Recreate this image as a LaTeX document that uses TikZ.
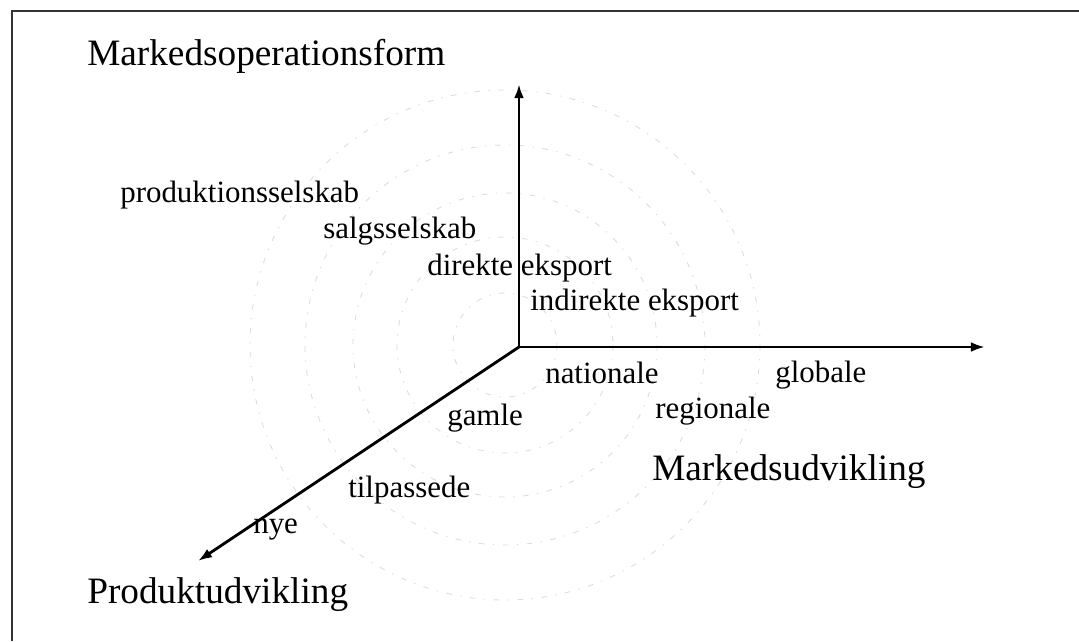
\documentclass[tikz,border=0pt]{standalone}
\usepackage{fontspec}
\setmainfont{Liberation Serif}
\usetikzlibrary{arrows.meta}

\tikzset{
  asse/.style={line width=2pt, -{Latex[length=10pt,width=7pt]}},
  cerchio/.style={gray!28, line width=0.6pt, dash pattern=on 4pt off 6pt on 1pt off 6pt},
  voce/.style={anchor=base west, inner sep=0pt, font=\fontsize{22}{26}\selectfont},
  titolo/.style={anchor=base west, inner sep=0pt, font=\fontsize{26.5}{31}\selectfont}
}

\begin{document}
\begin{tikzpicture}[x=0.025cm, y=-0.025cm]
\useasboundingbox (0,0) rectangle (1079,641);

\draw[line width=1pt, black!80] (12,641) -- (12,11) -- (1079,11);

\coordinate (c) at (505,345);
\foreach \r in {52,108,152,200,255}
  \draw[cerchio] (c) circle (\r);

\coordinate (o) at (519,347);
\coordinate (su) at (519,84);
\coordinate (destra) at (985,347);
\coordinate (giu) at (198,561);

\draw[asse] (o) -- (su);
\draw[asse] (o) -- (destra);
\draw[asse] (o) -- (giu);

\node[titolo] (mof) at (87,65) {Markedsoperationsform};
\node[titolo] (mu) at (652,480) {Markedsudvikling};
\node[titolo] (pu) at (87,603) {Produktudvikling};

\node[voce] (prod) at (120,202) {produktionsselskab};
\node[voce] (salg) at (323,238) {salgsselskab};
\node[voce] (dir) at (427,275) {direkte eksport};
\node[voce] (ind) at (530,310) {indirekte eksport};

\node[voce] (naz) at (545,383) {nationale};
\node[voce] (reg) at (655,418) {regionale};
\node[voce] (glob) at (775,382) {globale};

\node[voce] (gam) at (447,425) {gamle};
\node[voce] (til) at (348,497) {tilpassede};
\node[voce] (nye) at (253,533) {nye};

\end{tikzpicture}
\end{document}
